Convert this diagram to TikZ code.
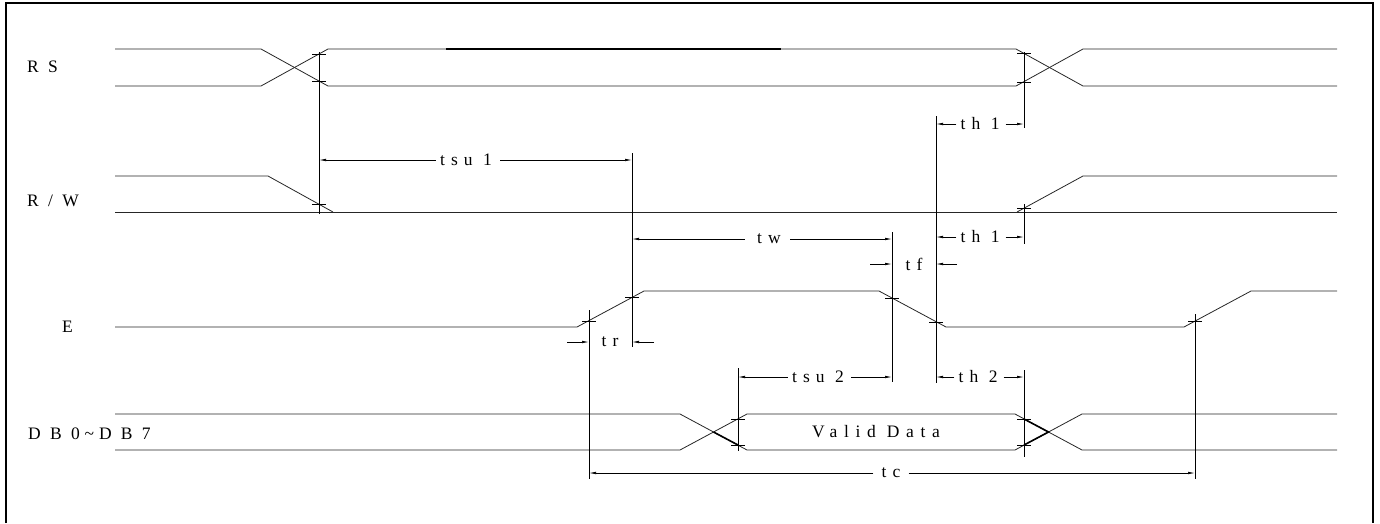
\documentclass[tikz,border=0pt]{standalone}
\usepackage{fontspec}
\setmainfont{Liberation Serif}
\usetikzlibrary{arrows.meta}
\begin{document}
\begin{tikzpicture}[x=1pt,y=-1pt,
  sig/.style={line width=0.8pt, black!85},
  bold/.style={line width=1.6pt},
  ext/.style={line width=0.7pt},
  dimarr/.style={line width=0.7pt,-{Latex[length=7pt,width=2.6pt]}},
  tk/.style={line width=0.7pt},
  lbl/.style={font=\fontsize{17.5}{20}\selectfont\addfontfeature{LetterSpace=28}, inner sep=0pt},
  vdl/.style={font=\fontsize{17.5}{20}\selectfont\addfontfeature{LetterSpace=38}, inner sep=0pt},
  dlbl/.style={font=\fontsize{17.5}{20}\selectfont\addfontfeature{LetterSpace=35}, inner sep=4pt},
]
\useasboundingbox (0,0) rectangle (1380,523);
% frame
\draw[line width=2pt] (6,523) -- (6,3) -- (1373,3) -- (1373,523);

% signal labels
\node[lbl,anchor=west] (lRS) at (27,67) {R S};
\node[lbl,anchor=west] (lRW) at (27,201) {R / W};
\node[lbl,anchor=west] (lE)  at (62,327) {E};
\node[lbl,anchor=west] (lDB) at (28,434) {D B 0\textasciitilde D B 7};

% RS
\draw[sig] (115,49) -- (261,49) -- (328,86) -- (1016,86) -- (1083,49) -- (1337,49);
\draw[sig] (115,86) -- (261,86) -- (328,49) -- (1016,49) -- (1083,86) -- (1337,86);
\draw[bold] (446,49) -- (781,49);

% R/W
\draw[sig] (115,176) -- (268,176) -- (333,212);
\draw[sig] (115,212) -- (1337,212);
\draw[sig] (1017,212) -- (1083,176) -- (1337,176);

% E
\draw[sig] (115,327) -- (577,327) -- (644,291) -- (879,291) -- (946,327) -- (1184,327) -- (1251,291) -- (1337,291);

% DB
\draw[sig] (115,414) -- (680,414) -- (747,450) -- (1015,450) -- (1082,414) -- (1337,414);
\draw[sig] (115,450) -- (680,450) -- (747,414) -- (1015,414) -- (1082,450) -- (1337,450);
\node[vdl] (vd) at (876,432) {Valid Data};
\coordinate (dbx1) at (713.5,432);
\coordinate (dbx2) at (1048.5,432);

% extension lines
\coordinate (e319a) at (319,52);  \coordinate (e319b) at (319,214);
\coordinate (e632a) at (632,153); \coordinate (e632b) at (632,347);
\coordinate (e892a) at (892,232); \coordinate (e892b) at (892,382);
\coordinate (e936a) at (936,116); \coordinate (e936b) at (936,383);
\coordinate (e1024a) at (1024,52); \coordinate (e1024b) at (1024,128);
\coordinate (e1024c) at (1024,204); \coordinate (e1024d) at (1024,244);
\coordinate (e1024e) at (1024,370); \coordinate (e1024f) at (1024,457);
\coordinate (e738a) at (738,368); \coordinate (e738b) at (738,451);
\coordinate (e589a) at (589,310); \coordinate (e589b) at (589,479);
\coordinate (e1195a) at (1195,314); \coordinate (e1195b) at (1195,479);
\foreach \a/\b in {e319a/e319b,e632a/e632b,e892a/e892b,e936a/e936b,e1024a/e1024b,e1024c/e1024d,e1024e/e1024f,e738a/e738b,e589a/e589b,e1195a/e1195b}
  \draw[ext] (\a) -- (\b);

% tick points
\coordinate (t1) at (319,54);  \coordinate (t2) at (319,81);  \coordinate (t3) at (319,204);
\coordinate (t4) at (1024,53); \coordinate (t5) at (1024,82); \coordinate (t6) at (1024,208);
\coordinate (t7) at (589,321); \coordinate (t8) at (632,297);
\coordinate (t9) at (892,298); \coordinate (t10) at (936,322);
\coordinate (t11) at (1195,321);
\coordinate (t12) at (738,419); \coordinate (t13) at (738,445);
\coordinate (t14) at (1024,419); \coordinate (t15) at (1024,445);
\foreach \t in {t1,t2,t3,t4,t5,t6,t7,t8,t9,t10,t11,t12,t13,t14,t15}
  \draw[tk] (\t) ++(-7,0) -- ++(14,0);

% bold data crossing parts
\draw[bold] (dbx1) -- (t13);
\draw[bold] (dbx2) -- (t14);
\draw[bold] (dbx2) -- (t15);

% tsu1
\node[dlbl] (Ltsu1) at (466,160) {tsu 1};
\coordinate (tsu1L) at (319,160); \coordinate (tsu1R) at (632,160);
\draw[dimarr] (Ltsu1.west) -- (tsu1L);
\draw[dimarr] ([xshift=4pt]Ltsu1.east) -- (tsu1R);

% tw
\node[dlbl] (Ltw) at (769,239) {tw};
\coordinate (twL) at (632,239); \coordinate (twR) at (892,239);
\draw[dimarr] ([xshift=-8pt]Ltw.west) -- (twL);
\draw[dimarr] ([xshift=5pt]Ltw.east) -- (twR);

% th1 upper
\node[dlbl] (Lth1a) at (980,124) {th 1};
\coordinate (th1aL) at (936,124); \coordinate (th1aR) at (1024,124);
\draw[dimarr] (Lth1a.west) -- (th1aL);
\draw[dimarr] ([xshift=2pt]Lth1a.east) -- (th1aR);

% th1 lower
\node[dlbl] (Lth1b) at (980,237) {th 1};
\coordinate (th1bL) at (936,237); \coordinate (th1bR) at (1024,237);
\draw[dimarr] (Lth1b.west) -- (th1bL);
\draw[dimarr] ([xshift=2pt]Lth1b.east) -- (th1bR);

% tf
\node[dlbl] (Ltf) at (914,264) {tf};
\coordinate (tfL0) at (870,264); \coordinate (tfL) at (892,264);
\coordinate (tfR0) at (957,264); \coordinate (tfR) at (936,264);
\draw[dimarr] (tfL0) -- (tfL);
\draw[dimarr] (tfR0) -- (tfR);

% tr
\node[dlbl] (Ltr) at (610,342) {tr};
\coordinate (trL0) at (567,342); \coordinate (trL) at (589,342);
\coordinate (trR0) at (654,342); \coordinate (trR) at (632,342);
\draw[dimarr] (trL0) -- (trL);
\draw[dimarr] (trR0) -- (trR);

% tsu2
\node[dlbl] (Ltsu2) at (818,377) {tsu 2};
\coordinate (tsu2L) at (738,377); \coordinate (tsu2R) at (892,377);
\draw[dimarr] (Ltsu2.west) -- (tsu2L);
\draw[dimarr] ([xshift=3pt]Ltsu2.east) -- (tsu2R);

% th2
\node[dlbl] (Lth2) at (978,377) {th 2};
\coordinate (th2L) at (936,377); \coordinate (th2R) at (1024,377);
\draw[dimarr] (Lth2.west) -- (th2L);
\draw[dimarr] ([xshift=2pt]Lth2.east) -- (th2R);

% tc
\node[dlbl] (Ltc) at (891,473) {tc};
\coordinate (tcL) at (589,473); \coordinate (tcR) at (1195,473);
\draw[dimarr] ([xshift=-4pt]Ltc.west) -- (tcL);
\draw[dimarr] ([xshift=4pt]Ltc.east) -- (tcR);
\end{tikzpicture}
\end{document}
